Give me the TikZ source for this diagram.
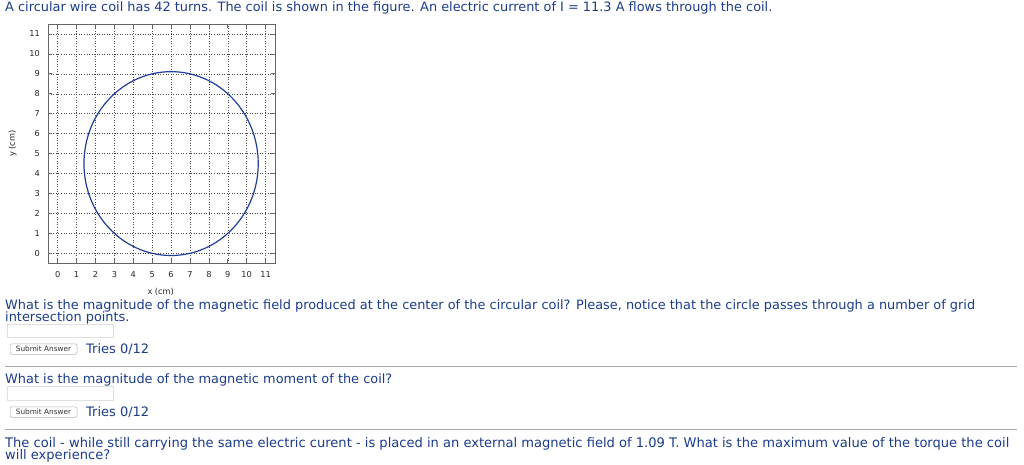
\documentclass[tikz,border=0pt]{standalone}
\usepackage{fontspec}
\setmainfont{DejaVu Sans}
\newfontfamily\condfont{DejaVu Sans Condensed}
\definecolor{txtblue}{HTML}{1C3D8C}
\definecolor{coilblue}{HTML}{1F3F9A}
\definecolor{axgray}{HTML}{666666}
\definecolor{rulegray}{HTML}{A8A8A8}
\tikzset{
  para/.style={anchor=base west, inner sep=0pt, text=txtblue, font=\fontsize{12.9}{13}\selectfont},
  cond/.style={anchor=base west, inner sep=0pt, text=txtblue, font=\condfont\fontsize{13.2}{13}\selectfont},
  ticklab/.style={inner sep=0pt, text=black!85, font=\fontsize{8.2}{9}\selectfont},
  gridline/.style={dotted, line width=0.55pt, black!70},
  frameline/.style={draw=axgray, line width=0.7pt},
  inbox/.style={draw=black!12, line width=0.5pt},
  btn/.style={draw=black!30, rounded corners=2pt, line width=0.5pt, fill=white, inner sep=0pt, minimum width=67pt, minimum height=10.5pt, font=\fontsize{7.3}{8}\selectfont, text=black!80},
  tries/.style={anchor=west, inner sep=0pt, text=txtblue, font=\fontsize{13}{14}\selectfont},
  sep/.style={draw=rulegray, line width=1pt},
  coil/.style={draw=coilblue, line width=1.2pt}
}
\begin{document}
\begin{tikzpicture}[x=1pt, y=-1pt]
\useasboundingbox[fill=white] (0,0) rectangle (1024,464);
\node[para] (l1) at (5,11) {A circular wire coil has 42 turns. The coil is shown in the figure. An electric current of I = 11.3 A flows through the coil.};
% plot
\begin{scope}[shift={(57.7pt,-253.3pt)}, x=18.9pt, y=19.94pt]
  \foreach \i in {0,...,11} {
    \draw[gridline] (\i,-0.5) -- (\i,11.5);
    \draw[gridline] (-0.5,\i) -- (11.5,\i);
    \draw[axgray, line width=0.7pt] (\i,-0.5) -- ++(0,0.2);
    \draw[axgray, line width=0.7pt] (\i,11.5) -- ++(0,-0.2);
    \draw[axgray, line width=0.7pt] (-0.5,\i) -- ++(0.22,0);
    \draw[axgray, line width=0.7pt] (11.5,\i) -- ++(-0.22,0);
    \node[ticklab, anchor=east] (yl\i) at (-0.93,\i) {\i};
    \node[ticklab] (xl\i) at (\i,-1.08) {\i};
  }
  \draw[frameline] (-0.5,-0.5) rectangle (11.5,11.5);
  \draw[coil] (6,4.5) ellipse [x radius=4.61, y radius=4.61];
  \node[ticklab] (xlab) at (5.45,-1.92) {x (cm)};
  \node[ticklab, rotate=90] (ylab) at (-2.38,5.5) {y (cm)};
\end{scope}
\draw[inbox] (7,324) rectangle (113,337.5);
\node[para] (q1a) at (5,309) {What is the magnitude of the magnetic field produced at the center of the circular coil? Please, notice that the circle passes through a number of grid};
\node[para] (q1b) at (5,321) {intersection points.};
\node[btn] (b1) at (43.5,349) {Submit Answer};
\node[tries] (t1) at (86,349.5) {Tries 0/12};
\draw[sep] (5,366) -- (1017,366);
\draw[inbox] (7,386.5) rectangle (113,400);
\node[para] (q2) at (5,383.5) {What is the magnitude of the magnetic moment of the coil?};
\node[btn] (b2) at (43.5,412) {Submit Answer};
\node[tries] (t2) at (86,412.5) {Tries 0/12};
\draw[sep] (5,429) -- (1017,429);
\node[cond] (q3a) at (5,447) {\scalebox{1.1}[1]{The coil - while still carrying the same electric curent - is placed in an external magnetic field of 1.09 T. What is the maximum value of the torque the coil}};
\node[cond] (q3b) at (5,459) {\scalebox{1.1}[1]{will experience?}};
\end{tikzpicture}
\end{document}
